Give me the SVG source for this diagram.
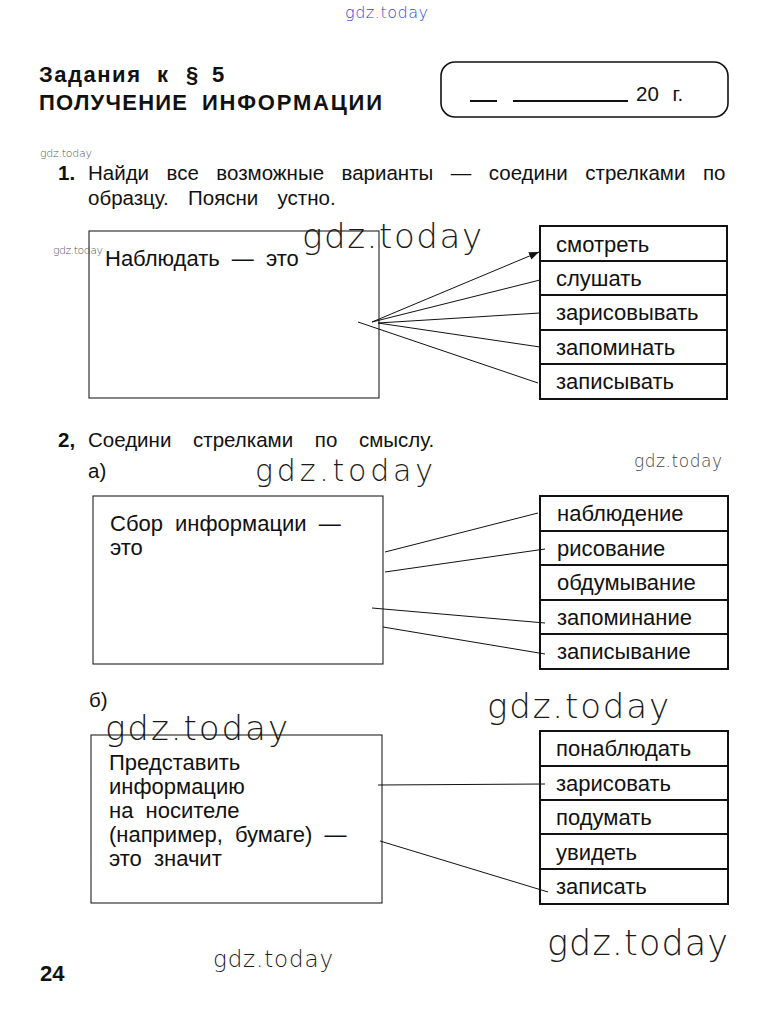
<svg xmlns="http://www.w3.org/2000/svg" width="767" height="1014" viewBox="0 0 767 1014">
<style>
.t{font-family:"Liberation Sans",Arial,sans-serif;font-size:20.5px;fill:#111}
.h{font-family:"Liberation Sans",Arial,sans-serif;font-size:22px;font-weight:bold;fill:#111}
.bx{font-family:"Liberation Sans",Arial,sans-serif;font-size:22px;word-spacing:6px;fill:#111}
.wm{font-family:"DejaVu Sans ExtraLight","DejaVu Sans",sans-serif;font-weight:200;fill:#1a1a1a}
.lb{fill:none;stroke:#222;stroke-width:1.1}
.rb{fill:#fff;stroke:#111;stroke-width:2}
.rl{stroke:#111;stroke-width:2}
.c{stroke:#111;stroke-width:1;fill:none}
</style>
<defs>
<marker id="arr" viewBox="0 0 10 10" refX="10" refY="5" markerWidth="10" markerHeight="10" markerUnits="userSpaceOnUse" orient="auto">
<path d="M0,1 L10,5 L0,9 z" fill="#111"/>
</marker>
</defs>
<rect width="767" height="1014" fill="#fff"/>

<!-- header -->
<text class="wm" x="345" y="18" font-size="16" style="fill:#3344dd" textLength="83">gdz.today</text>
<text class="h" x="39" y="82" textLength="101" lengthAdjust="spacing">Задания</text>
<text class="h" x="157" y="82">к</text>
<text class="h" x="186" y="82">§</text>
<text class="h" x="212" y="82">5</text>
<text class="h" x="39" y="110" textLength="148" lengthAdjust="spacing">ПОЛУЧЕНИЕ</text>
<text class="h" x="202" y="110" textLength="180" lengthAdjust="spacing">ИНФОРМАЦИИ</text>
<g id="date">
<rect x="441" y="62" width="287" height="55" rx="14" fill="none" stroke="#111" stroke-width="1.6"/>
<line x1="470" y1="101" x2="497" y2="101" stroke="#111" stroke-width="2"/>
<line x1="513" y1="101" x2="628" y2="101" stroke="#111" stroke-width="2"/>
<text class="t" x="636" y="101" word-spacing="8">20 г.</text>
</g>

<text class="wm" x="40" y="157" font-size="11" style="fill:#555" textLength="52">gdz.today</text>
<text class="t" x="58" y="180" style="font-weight:bold">1.</text>
<text class="t" x="88" y="180" word-spacing="11.8">Найди все возможные варианты — соедини стрелками по</text>
<text class="t" x="88" y="205" word-spacing="13.6">образцу. Поясни устно.</text>

<!-- task 1 -->
<g id="task1-box">
<rect class="lb" x="89" y="231" width="290" height="167"/>
<text class="bx" x="105" y="266">Наблюдать — это</text>
</g>
<text class="wm" x="53" y="254" font-size="11" style="fill:#555" textLength="50">gdz.today</text>
<text class="wm" x="302" y="248" font-size="34" textLength="180">gdz.today</text>
<g id="task1-list">
<rect class="rb" x="540" y="226" width="187" height="173"/>
<line class="rl" x1="540" y1="261" x2="727" y2="261"/>
<line class="rl" x1="540" y1="295" x2="727" y2="295"/>
<line class="rl" x1="540" y1="330" x2="727" y2="330"/>
<line class="rl" x1="540" y1="364" x2="727" y2="364"/>
<text class="bx" x="556" y="252">смотреть</text>
<text class="bx" x="556" y="286">слушать</text>
<text class="bx" x="556" y="320">зарисовывать</text>
<text class="bx" x="556" y="355">запоминать</text>
<text class="bx" x="556" y="389">записывать</text>
</g>

<!-- task 2 -->
<text class="t" x="58" y="447" style="font-weight:bold">2,</text>
<text class="t" x="88" y="447" word-spacing="16">Соедини стрелками по смыслу.</text>
<text class="t" x="88" y="478">а)</text>
<text class="wm" x="255" y="481" font-size="30" textLength="178">gdz.today</text>
<text class="wm" x="634" y="467" font-size="17" style="fill:#444" textLength="88">gdz.today</text>
<g id="task2a-box">
<rect class="lb" x="93" y="496" width="290" height="168"/>
<text class="bx" x="110" y="531">Сбор информации —</text>
<text class="bx" x="110" y="555">это</text>
</g>
<g id="task2a-list">
<rect class="rb" x="540" y="496" width="188" height="173"/>
<line class="rl" x1="540" y1="531" x2="728" y2="531"/>
<line class="rl" x1="540" y1="565" x2="728" y2="565"/>
<line class="rl" x1="540" y1="600" x2="728" y2="600"/>
<line class="rl" x1="540" y1="634" x2="728" y2="634"/>
<text class="bx" x="557" y="521">наблюдение</text>
<text class="bx" x="557" y="556">рисование</text>
<text class="bx" x="557" y="590">обдумывание</text>
<text class="bx" x="557" y="625">запоминание</text>
<text class="bx" x="557" y="659">записывание</text>
</g>

<text class="t" x="89" y="707">б)</text>
<text class="wm" x="487" y="718" font-size="34" textLength="182">gdz.today</text>
<g id="task2b-box">
<rect class="lb" x="91" y="735" width="291" height="168"/>
<text class="bx" x="109" y="770">Представить</text>
<text class="bx" x="109" y="794">информацию</text>
<text class="bx" x="109" y="818">на носителе</text>
<text class="bx" x="109" y="842" word-spacing="9">(например, бумаге) —</text>
<text class="bx" x="109" y="866">это значит</text>
</g>
<text class="wm" x="105" y="740" font-size="34" textLength="183">gdz.today</text>
<g id="task2b-list">
<rect class="rb" x="540" y="731" width="188" height="173"/>
<line class="rl" x1="540" y1="766" x2="728" y2="766"/>
<line class="rl" x1="540" y1="800" x2="728" y2="800"/>
<line class="rl" x1="540" y1="834" x2="728" y2="834"/>
<line class="rl" x1="540" y1="869" x2="728" y2="869"/>
<text class="bx" x="556" y="756">понаблюдать</text>
<text class="bx" x="556" y="791">зарисовать</text>
<text class="bx" x="556" y="825">подумать</text>
<text class="bx" x="556" y="860">увидеть</text>
<text class="bx" x="556" y="894">записать</text>
</g>

<g id="connectors">
<line class="c" x1="372" y1="322" x2="539" y2="252" marker-end="url(#arr)"/>
<line class="c" x1="372" y1="322" x2="540" y2="280"/>
<line class="c" x1="378" y1="323" x2="540" y2="313"/>
<line class="c" x1="378" y1="323" x2="540" y2="347"/>
<line class="c" x1="358" y1="322" x2="538" y2="383"/>
<line class="c" x1="385" y1="552" x2="538" y2="513"/>
<line class="c" x1="385" y1="572" x2="545" y2="549"/>
<line class="c" x1="372" y1="608" x2="545" y2="623"/>
<line class="c" x1="383" y1="627" x2="545" y2="654"/>
<line class="c" x1="378" y1="785" x2="545" y2="784"/>
<line class="c" x1="380" y1="841" x2="548" y2="892"/>
</g>

<text class="wm" x="547" y="955" font-size="35" textLength="181">gdz.today</text>
<text class="wm" x="213" y="967" font-size="23" textLength="120">gdz.today</text>
<text class="h" x="40" y="981">24</text>
</svg>
